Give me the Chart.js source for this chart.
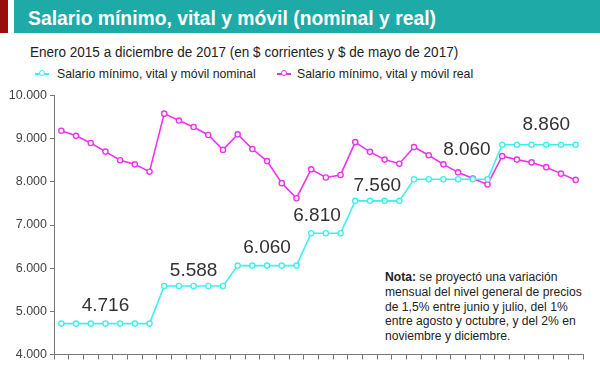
<!DOCTYPE html>
<html>
<head>
<meta charset="utf-8">
<script src="https://cdn.jsdelivr.net/npm/chart.js@4/dist/chart.umd.min.js"></script>
<style>
  html, body { margin: 0; padding: 0; background: #fff; }
  body { width: 600px; height: 365px; position: relative; overflow: hidden; font-family: "Liberation Sans", Arial, sans-serif; }
  .redbar { position: absolute; left: 0; top: 0; width: 8px; height: 33px; background: #9b0d0d; }
  .header { position: absolute; left: 14px; top: 0; width: 586px; height: 33px; background: #1eaba8; }
  .header h1 { margin: 0; position: absolute; left: 14px; top: 6px; color: #fff; font-size: 21px; font-weight: bold; white-space: nowrap; transform: scaleX(0.92); transform-origin: 0 0; }
  .sub { position: absolute; left: 30px; top: 44px; font-size: 14.7px; color: #222; white-space: nowrap; transform: scaleX(0.92); transform-origin: 0 0; }
  .ltext { position: absolute; top: 66px; font-size: 13.5px; color: #222; white-space: nowrap; transform: scaleX(0.91); transform-origin: 0 0; }
  .lmark { position: absolute; top: 73px; width: 14px; height: 2px; }
  .lmark:after { content: ""; position: absolute; left: 3.5px; top: -3px; width: 4px; height: 4px; border: 1.5px solid; border-radius: 50%; background: #fff; }
  .note { position: absolute; left: 385px; top: 270px; font-size: 12.5px; line-height: 14.8px; color: #222; white-space: nowrap; transform: scaleX(0.97); transform-origin: 0 0; }
  #wrap { position: absolute; left: 0; top: 85px; width: 600px; height: 280px; }
</style>
</head>
<body>
<div class="redbar"></div>
<div class="header"><h1>Salario mínimo, vital y móvil (nominal y real)</h1></div>
<div class="sub">Enero 2015 a diciembre de 2017 (en $ corrientes y $ de mayo de 2017)</div>
<div class="lmark" style="left:35px;background:#3ff0f0;color:#3ff0f0"></div>
<div class="ltext" style="left:57px">Salario mínimo, vital y móvil nominal</div>
<div class="lmark" style="left:277px;background:#ee33ee;color:#ee33ee"></div>
<div class="ltext" style="left:297px">Salario mínimo, vital y móvil real</div>
<div class="note"><b>Nota:</b> se proyectó una variación<br>mensual del nivel general de precios<br>de 1,5% entre junio y julio, del 1%<br>entre agosto y octubre, y del 2% en<br>noviembre y diciembre.</div>
<div id="wrap"><canvas id="c"></canvas></div>
<script>
// meses ene-2015 .. dic-2017
var months = [];
['2015', '2016', '2017'].forEach(function(y) {
  for (var m = 1; m <= 12; m++) months.push(m + '/' + y);
});

var nominal = [
  4716, 4716, 4716, 4716, 4716, 4716, 4716, 5588, 5588, 5588, 5588, 5588,
  6060, 6060, 6060, 6060, 6060, 6810, 6810, 6810, 7560, 7560, 7560, 7560,
  8060, 8060, 8060, 8060, 8060, 8060, 8860, 8860, 8860, 8860, 8860, 8860
];
var real = [
  9185, 9065, 8900, 8700, 8500, 8405, 8235, 9580, 9420, 9270, 9085, 8740,
  9100, 8760, 8480, 7970, 7620, 8290, 8100, 8160, 8920, 8695, 8515, 8420,
  8805, 8615, 8405, 8220, 8075, 7940, 8595, 8515, 8450, 8340, 8190, 8045
];

// etiquetas de cada tramo: indice (puede ser fraccional) y desplazamiento vertical
var stepLabelAt = [3, 9, 14, 17.4, 21.5, 27.6, 33];
var stepLabelLift = [8, 6, 8, 8, 6, 20, 10];

function fmt(v) {
  return String(v).replace(/\B(?=(\d{3})+(?!\d))/g, '.');
}

var stepLabels = {
  id: 'stepLabels',
  afterDatasetsDraw: function(chart) {
    var ctx = chart.ctx, xs = chart.scales.x, ys = chart.scales.y;
    ctx.save();
    ctx.font = '19px "Liberation Sans", Arial, sans-serif';
    ctx.fillStyle = '#333';
    ctx.textAlign = 'center';
    ctx.textBaseline = 'bottom';
    stepLabelAt.forEach(function(pos, i) {
      var i0 = Math.floor(pos), f = pos - i0;
      var x0 = xs.getPixelForValue(i0), x1 = xs.getPixelForValue(Math.min(i0 + 1, months.length - 1));
      var x = x0 + (x1 - x0) * f;
      var v = nominal[Math.round(pos)];
      var y = ys.getPixelForValue(v) - stepLabelLift[i];
      ctx.fillText(fmt(v), x, y);
    });
    ctx.restore();
  }
};

new Chart(document.getElementById('c'), {
  type: 'line',
  data: {
    labels: months,
    datasets: [{
      label: 'Salario mínimo, vital y móvil nominal',
      data: nominal,
      borderColor: '#3ff0f0',
      backgroundColor: '#fff',
      borderWidth: 1.6,
      pointRadius: 2.6,
      pointBorderWidth: 1.4,
      pointBackgroundColor: '#fff',
      tension: 0
    }, {
      label: 'Salario mínimo, vital y móvil real',
      data: real,
      borderColor: '#ee33ee',
      backgroundColor: '#fff',
      borderWidth: 1.6,
      pointRadius: 2.6,
      pointBorderWidth: 1.4,
      pointBackgroundColor: '#fff',
      tension: 0
    }]
  },
  options: {
    responsive: true,
    maintainAspectRatio: false,
    animation: false,
    layout: { padding: { top: 10, right: 17, bottom: 0, left: 0 } },
    plugins: { legend: { display: false }, tooltip: { enabled: false } },
    scales: {
      x: {
        offset: true,
        grid: { offset: true, drawOnChartArea: false, drawTicks: true, tickLength: 5, color: '#777' },
        border: { color: '#777', width: 1 },
        ticks: { display: false },
        afterFit: function(s) { s.height = 7; }
      },
      y: {
        min: 4000,
        max: 10000,
        grid: { drawOnChartArea: false, tickLength: 4, color: '#777' },
        border: { color: '#777', width: 1 },
        ticks: {
          stepSize: 1000,
          padding: 3,
          color: '#444',
          font: { family: '"Liberation Sans", Arial, sans-serif', size: 12.5 },
          callback: function(v) { return fmt(v); }
        },
        afterFit: function(s) { s.width = 54; }
      }
    }
  },
  plugins: [stepLabels]
});
</script>
</body>
</html>
